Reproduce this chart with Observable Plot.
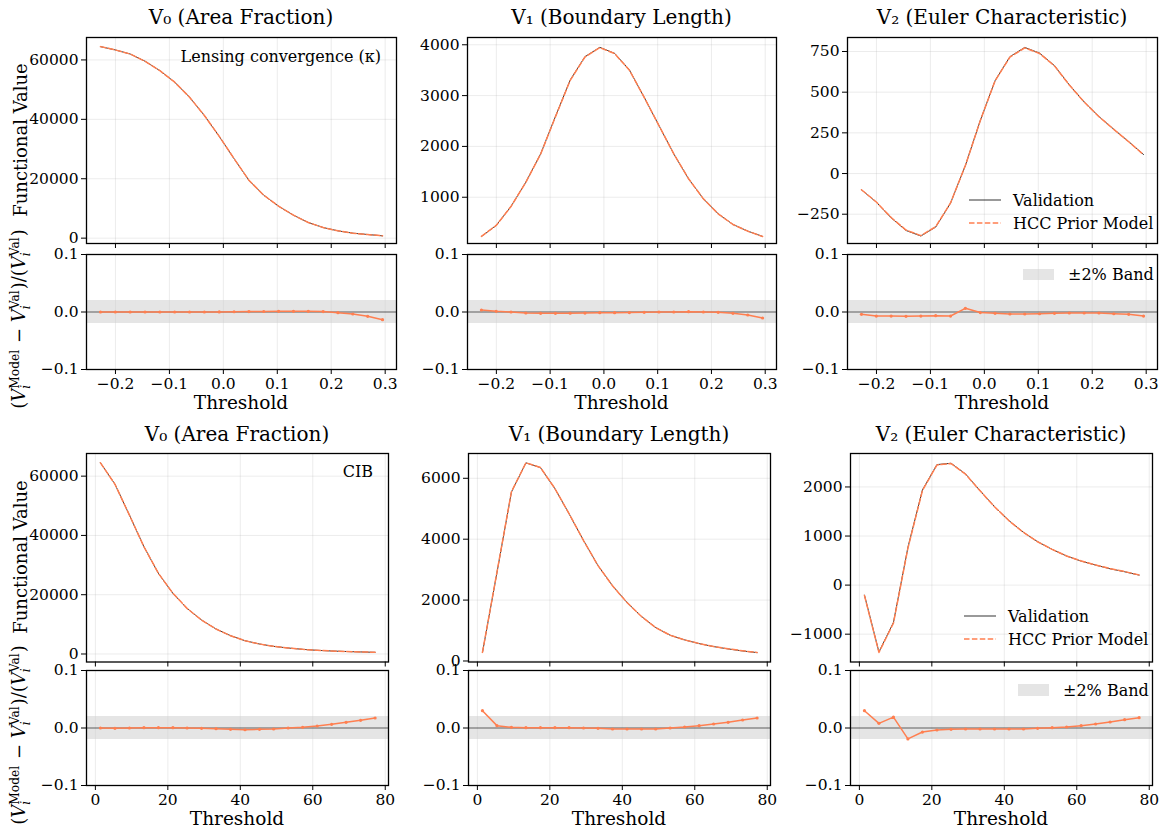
<!DOCTYPE html>
<html><head><meta charset="utf-8">
<script src="https://cdn.jsdelivr.net/npm/d3@7"></script>
<script src="https://cdn.jsdelivr.net/npm/@observablehq/plot@0.6"></script>
<style>
body{margin:0;background:#fff;}
#fig{position:relative;width:1172px;height:829px;font-family:"DejaVu Serif",serif;color:#000;overflow:hidden;background:#fff}
.c{position:absolute;transform:translate(-50%,-50%);white-space:nowrap}
.title{font-size:20px}
.xl{font-size:18.5px}
.yl{font-size:18px;transform:translate(-50%,-50%) rotate(-90deg)}
.yl2{font-size:18px;transform:translate(-50%,-50%) rotate(-90deg)}
.ann{position:absolute;font-size:16px;white-space:nowrap;transform:translate(-100%,-50%)}
.leg{position:absolute;font-size:16px;white-space:nowrap;transform:translate(0,-50%)}
.ss{display:inline-block;vertical-align:-0.42em;line-height:0.95;font-size:0.68em;text-align:left;margin-right:1px}
.ss span{display:block}
i{font-style:italic}
</style></head><body><div id="fig"></div><script>
// ---------------- data ----------------
const thrTop = [-0.2278,-0.2003,-0.1728,-0.1452,-0.1177,-0.0902,-0.0627,-0.0352,-0.0076,0.0199,0.0474,0.0749,0.1024,0.1300,0.1575,0.1850,0.2125,0.2400,0.2676,0.2951];
const thrBot = [1.4,5.4,9.4,13.4,17.4,21.4,25.3,29.3,33.3,37.3,41.3,45.3,49.2,53.2,57.2,61.2,65.2,69.2,73.2,77.2];

const kappaV0 = [64480,63360,62000,59550,56400,52500,47460,41300,34250,26750,19480,14440,10750,7720,5260,3580,2460,1680,1230,780];
const kappaV1 = [229,445,819,1297,1853,2587,3307,3766,3949,3831,3504,2967,2410,1853,1362,969,675,465,334,229];
const kappaV2 = [-100,-176,-272,-350,-384,-329,-182,49,325,571,718,775,740,663,545,440,350,272,196,117];

const cibV0 = [64500,57300,46850,36180,27190,20450,15390,11460,8430,6180,4490,3370,2580,2020,1570,1240,1010,840,700,560];
const cibV1 = [275,2900,5550,6506,6352,5660,4836,3956,3132,2473,1923,1462,1099,846,692,571,473,396,330,275];
const cibV2 = [-204,-1361,-762,769,1939,2456,2483,2265,1925,1599,1313,1075,884,728,592,490,408,333,272,204];

// relative residuals (Model - Val)/Val
const kappaR0 = [0,0,0,0,0,0,0,0,0.0002,0.0004,0.0007,0.0009,0.0011,0.0012,0.0012,0.0008,-0.0012,-0.0035,-0.0075,-0.0133];
const kappaR1 = [0.0035,0.0012,0,-0.0017,-0.0023,-0.0023,-0.0022,-0.0018,-0.0012,-0.0012,-0.001,-0.0006,0,0,0.0006,0,-0.0006,-0.0023,-0.0052,-0.0104];
const kappaR2 = [-0.004,-0.007,-0.007,-0.0075,-0.007,-0.0064,-0.007,0.0064,-0.001,-0.0023,-0.0035,-0.0035,-0.003,-0.0023,-0.0017,-0.0017,-0.0017,-0.003,-0.004,-0.007];
const cibR0 = [0,-0.0006,0,0.0006,0.0006,0.0006,0,-0.0006,-0.0012,-0.0023,-0.003,-0.0023,-0.0017,0,0.0012,0.0035,0.0064,0.0099,0.0133,0.0174];
const cibR1 = [0.0301,0.0041,0.0012,0.0006,0.0006,0.0006,0.0006,0,-0.0006,-0.0017,-0.0017,-0.0017,-0.0017,0,0.0017,0.0041,0.007,0.0099,0.0139,0.0174];
const cibR2 = [0.0301,0.0081,0.019,-0.019,-0.007,-0.0035,-0.0023,-0.0017,-0.0017,-0.0017,-0.0017,-0.0017,-0.0006,0.0006,0.0017,0.0041,0.007,0.0104,0.0145,0.018];

const titles = ["V\u2080 (Area Fraction)","V\u2081 (Boundary Length)","V\u2082 (Euler Characteristic)"];
const fieldNames = ["Lensing convergence (\u03ba)","CIB"];
const seriesNames = ["Validation","HCC Prior Model"];
const bandName = "\u00b12% Band";

const xTicksTop = [-0.2,-0.1,0.0,0.1,0.2,0.3];
const xTicksBot = [0,20,40,60,80];
const yTicksMain = [
  [[0,20000,40000,60000],[1000,2000,3000,4000],[-250,0,250,500,750]],
  [[0,20000,40000,60000],[0,2000,4000,6000],[-1000,0,1000,2000]]
];
const yTicksRes = [-0.1,0.0,0.1];

// ---------------- layout ----------------
const CORAL = "#ff7f50";
const fig = document.getElementById("fig");
const FONT = '"DejaVu Serif", serif';
const colsTop = [[86,396],[467,776],[847,1157]];
const colsBot = [[86,388],[468,770],[850,1152]];
const rows = [
  {main:[37,243], res:[254,369], cols:colsTop, thr:thrTop, xDom:[-0.2537,0.3210], xTicks:xTicksTop, xFmt:d3.format(".1f"),
   vals:[kappaV0,kappaV1,kappaV2], res_:[kappaR0,kappaR1,kappaR2],
   yDom:[[-1800,67550],[90,4143],[-430,836]], title:17, xlab:402},
  {main:[453,661.5], res:[670,785], cols:colsBot, thr:thrBot, xDom:[-2.45,80.9], xTicks:xTicksBot, xFmt:d3.format("d"),
   vals:[cibV0,cibV1,cibV2], res_:[cibR0,cibR1,cibR2],
   yDom:[[-2700,67640],[-33,6814],[-1567,2682]], title:434, xlab:818}
];

function place(el, left, top){ el.style.position="absolute"; el.style.left=left+"px"; el.style.top=top+"px"; fig.appendChild(el); return el; }
function div(cls, html, x, y){ const d=document.createElement("div"); d.className=cls; d.innerHTML=html; d.style.left=x+"px"; d.style.top=y+"px"; fig.appendChild(d); return d; }
const style = {fontFamily:FONT, fontSize:"15.5px", background:"transparent", color:"#000", overflow:"visible"};
const gridOpts = {stroke:"#b0b0b0", strokeOpacity:0.3, strokeWidth:0.8};
const yFmt = d3.format("d");

rows.forEach((R, ri) => {
  R.cols.forEach(([x0,x1], ci) => {
    const data = R.thr.map((t,i)=>({t, v:R.vals[ci][i], r:R.res_[ci][i], m:R.vals[ci][i]*(1+R.res_[ci][i])}));
    const ML=80, MR=14, MT=12, MB=12;
    // main panel
    const [y0,y1] = R.main;
    const yt = yTicksMain[ri][ci];
    const pm = Plot.plot({
      width:(x1-x0)+ML+MR, height:(y1-y0)+MT+MB, marginLeft:ML, marginRight:MR, marginTop:MT, marginBottom:MB,
      x:{domain:R.xDom}, y:{domain:R.yDom[ci]}, style,
      marks:[
        Plot.gridX(R.xTicks, gridOpts),
        Plot.gridY(yt, gridOpts),
        Plot.line(data,{x:"t",y:"v",stroke:"#000",strokeWidth:1,strokeOpacity:0.8}),
        Plot.line(data,{x:"t",y:"m",stroke:CORAL,strokeWidth:1.5,strokeDasharray:"5.5,2.4"}),
        Plot.frame({stroke:"#000",strokeWidth:1.3}),
        Plot.axisX(R.xTicks,{tickSize:5,tickFormat:()=>"",label:null}),
        Plot.axisY(yt,{tickSize:5,tickPadding:3,tickFormat:yFmt,label:null})
      ]});
    place(pm, x0-ML, y0-MT);
    // residual panel
    const [r0,r1] = R.res;
    const MB2=40;
    const pr = Plot.plot({
      width:(x1-x0)+ML+MR, height:(r1-r0)+MT+MB2, marginLeft:ML, marginRight:MR, marginTop:MT, marginBottom:MB2,
      x:{domain:R.xDom}, y:{domain:[-0.1,0.1]}, style,
      marks:[
        Plot.frame({fill:"#fff"}),
        Plot.gridX(R.xTicks, gridOpts),
        Plot.rect([0],{x1:R.xDom[0],x2:R.xDom[1],y1:-0.02,y2:0.02,fill:"#cccccc",fillOpacity:0.5}),
        Plot.ruleY([0],{stroke:"#000",strokeWidth:0.8,strokeOpacity:0.75}),
        Plot.line(data,{x:"t",y:"r",stroke:CORAL,strokeWidth:1.5}),
        Plot.dot(data,{x:"t",y:"r",fill:CORAL,r:1.6}),
        Plot.frame({stroke:"#000",strokeWidth:1.3}),
        Plot.axisX(R.xTicks,{tickSize:5,tickPadding:3,tickFormat:R.xFmt,label:null}),
        Plot.axisY(yTicksRes,{tickSize:5,tickPadding:3,tickFormat:d3.format(".1f"),label:null})
      ]});
    place(pr, x0-ML, r0-MT);
    // titles and x labels
    div("c title", titles[ci], (x0+x1)/2, R.title);
    div("c xl", "Threshold", (x0+x1)/2, R.xlab);
  });
  // y labels
  div("c yl", "Functional Value", 20, (R.main[0]+R.main[1])/2);
  div("c yl2", '(<i>V</i><span class="ss"><span>Model</span><span><i>i</i></span></span> \u2212 <i>V</i><span class="ss"><span>Val</span><span><i>i</i></span></span>)/(<i>V</i><span class="ss"><span>Val</span><span><i>i</i></span></span>)', 20, (R.res[0]+R.res[1])/2 + 7);
  // field annotation
  div("ann", fieldNames[ri], R.cols[0][1]-15, ri===0 ? 56 : 471);
});

// legends
function sample(x1,x2,y,stroke,dash,opacity){
  const ns="http://www.w3.org/2000/svg";
  const s=document.createElementNS(ns,"svg"); s.setAttribute("width",x2-x1); s.setAttribute("height",6);
  const l=document.createElementNS(ns,"line"); l.setAttribute("x1",0); l.setAttribute("x2",x2-x1); l.setAttribute("y1",3); l.setAttribute("y2",3);
  l.setAttribute("stroke",stroke); l.setAttribute("stroke-width", dash?1.5:1); if(dash) l.setAttribute("stroke-dasharray",dash);
  if(opacity) l.setAttribute("stroke-opacity",opacity);
  s.appendChild(l); place(s,x1,y-3);
}
function patch(x1,x2,y1,y2){ const d=document.createElement("div"); d.style.width=(x2-x1)+"px"; d.style.height=(y2-y1)+"px"; d.style.background="rgba(204,204,204,0.5)"; place(d,x1,y1); }
[[969,1001,1013,200,222.7],[964,996,1008,615.7,639.3]].forEach(([a,b,tx,ya,yb])=>{
  sample(a,b,ya,"#000",null,0.8); div("leg",seriesNames[0],tx,ya);
  sample(a,b,yb,CORAL,"5.5,2.4"); div("leg",seriesNames[1],tx,yb);
});
[[1023,1054,269,280,1068,274],[1018,1049,684,696,1063,690]].forEach(([a,b,p1,p2,tx,ty])=>{
  patch(a,b,p1,p2); div("leg",bandName,tx,ty);
});
</script></body></html>
